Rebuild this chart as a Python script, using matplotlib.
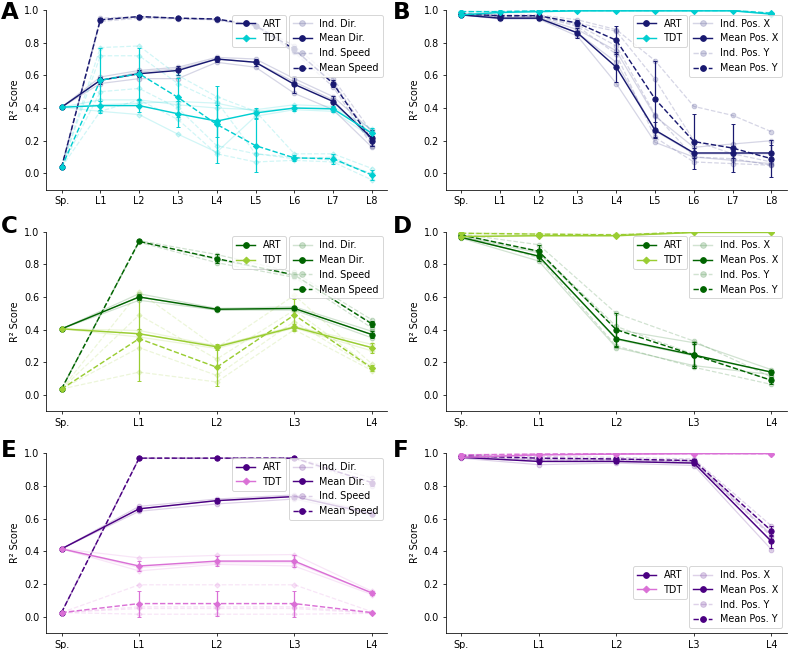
import numpy as np
import matplotlib
matplotlib.use("Agg")
import matplotlib.pyplot as plt
from matplotlib.lines import Line2D

DPI = 69

layers9 = ["Sp.", "L1", "L2", "L3", "L4", "L5", "L6", "L7", "L8"]
layers5 = ["Sp.", "L1", "L2", "L3", "L4"]

# ---- panel A: direction / speed, 8-layer nets ----
A_art_dir = [0.405, 0.57, 0.61, 0.63, 0.70, 0.68, 0.545, 0.44, 0.215]
A_art_dir_err = [0.0, 0.02, 0.02, 0.03, 0.02, 0.02, 0.05, 0.035, 0.05]
A_art_dir_ind = [[0.405, 0.59, 0.63, 0.65, 0.71, 0.70, 0.58, 0.47, 0.26],
                 [0.405, 0.57, 0.62, 0.64, 0.70, 0.68, 0.56, 0.45, 0.20],
                 [0.405, 0.55, 0.58, 0.58, 0.68, 0.65, 0.49, 0.39, 0.16]]
A_art_spd = [0.037, 0.94, 0.96, 0.95, 0.945, 0.905, 0.76, 0.55, 0.20]
A_art_spd_err = [0.0, 0.01, 0.01, 0.005, 0.005, 0.01, 0.02, 0.02, 0.03]
A_art_spd_ind = [[0.037, 0.95, 0.96, 0.95, 0.945, 0.91, 0.78, 0.58, 0.25],
                 [0.037, 0.94, 0.955, 0.95, 0.94, 0.90, 0.75, 0.56, 0.21],
                 [0.037, 0.93, 0.95, 0.945, 0.94, 0.90, 0.74, 0.53, 0.17]]
A_tdt_dir = [0.405, 0.415, 0.415, 0.365, 0.32, 0.37, 0.40, 0.395, 0.245]
A_tdt_dir_err = [0.0, 0.03, 0.04, 0.08, 0.10, 0.03, 0.02, 0.02, 0.03]
A_tdt_dir_ind = [[0.405, 0.45, 0.45, 0.42, 0.40, 0.39, 0.42, 0.41, 0.27],
                 [0.405, 0.42, 0.43, 0.44, 0.43, 0.38, 0.40, 0.40, 0.25],
                 [0.405, 0.38, 0.36, 0.24, 0.13, 0.35, 0.39, 0.38, 0.22]]
A_tdt_spd = [0.037, 0.57, 0.61, 0.465, 0.30, 0.17, 0.095, 0.09, -0.01]
A_tdt_spd_err = [0.0, 0.20, 0.16, 0.12, 0.235, 0.16, 0.02, 0.03, 0.03]
A_tdt_spd_ind = [[0.037, 0.77, 0.78, 0.60, 0.47, 0.38, 0.12, 0.12, 0.03],
                 [0.037, 0.72, 0.72, 0.55, 0.44, 0.12, 0.09, 0.10, -0.01],
                 [0.037, 0.50, 0.52, 0.40, 0.17, 0.12, 0.10, 0.08, 0.00],
                 [0.037, 0.38, 0.45, 0.33, 0.12, 0.07, 0.08, 0.07, -0.04]]

# ---- panel B: position x / y, 8-layer nets ----
B_art_x = [0.97, 0.95, 0.95, 0.86, 0.65, 0.265, 0.125, 0.125, 0.125]
B_art_x_err = [0.005, 0.01, 0.01, 0.03, 0.09, 0.05, 0.03, 0.03, 0.05]
B_art_x_ind = [[0.97, 0.955, 0.955, 0.88, 0.75, 0.35, 0.16, 0.18, 0.20],
               [0.97, 0.95, 0.95, 0.86, 0.68, 0.26, 0.12, 0.12, 0.12],
               [0.97, 0.945, 0.945, 0.84, 0.55, 0.19, 0.10, 0.08, 0.06]]
B_art_y = [0.975, 0.965, 0.965, 0.92, 0.815, 0.455, 0.195, 0.155, 0.09]
B_art_y_err = [0.005, 0.01, 0.01, 0.02, 0.085, 0.235, 0.17, 0.145, 0.115]
B_art_y_ind = [[0.98, 0.97, 0.97, 0.94, 0.88, 0.69, 0.41, 0.355, 0.255],
               [0.975, 0.965, 0.965, 0.92, 0.87, 0.575, 0.20, 0.12, 0.07],
               [0.975, 0.965, 0.96, 0.91, 0.78, 0.36, 0.10, 0.09, 0.05],
               [0.97, 0.96, 0.96, 0.90, 0.73, 0.22, 0.07, 0.06, 0.05]]
B_tdt_x = [0.97, 0.985, 0.99, 0.995, 0.995, 0.995, 0.995, 0.995, 0.975]
B_tdt_x_err = [0.003, 0.003, 0.002, 0.001, 0.001, 0.001, 0.001, 0.001, 0.004]
B_tdt_x_ind = [[0.972, 0.988, 0.992, 0.996, 0.996, 0.996, 0.996, 0.996, 0.978],
               [0.968, 0.982, 0.988, 0.994, 0.994, 0.994, 0.994, 0.994, 0.972]]
B_tdt_y = [0.99, 0.99, 0.995, 0.997, 0.997, 0.997, 0.997, 0.997, 0.98]
B_tdt_y_err = [0.002, 0.002, 0.001, 0.001, 0.001, 0.001, 0.001, 0.001, 0.004]
B_tdt_y_ind = [[0.992, 0.992, 0.996, 0.998, 0.998, 0.998, 0.998, 0.998, 0.984],
               [0.988, 0.988, 0.994, 0.996, 0.996, 0.996, 0.996, 0.996, 0.976]]

# ---- panel C: direction / speed, 4-layer nets ----
C_art_dir = [0.405, 0.60, 0.525, 0.53, 0.37]
C_art_dir_err = [0.0, 0.02, 0.01, 0.01, 0.02]
C_art_dir_ind = [[0.405, 0.62, 0.53, 0.54, 0.39],
                 [0.405, 0.60, 0.52, 0.53, 0.37],
                 [0.405, 0.58, 0.52, 0.52, 0.35]]
C_art_spd = [0.037, 0.94, 0.835, 0.735, 0.435]
C_art_spd_err = [0.0, 0.005, 0.03, 0.02, 0.02]
C_art_spd_ind = [[0.037, 0.945, 0.86, 0.75, 0.46],
                 [0.037, 0.94, 0.83, 0.73, 0.44],
                 [0.037, 0.935, 0.81, 0.72, 0.41]]
C_tdt_dir = [0.405, 0.375, 0.295, 0.415, 0.29]
C_tdt_dir_err = [0.0, 0.03, 0.02, 0.02, 0.03]
C_tdt_dir_ind = [[0.405, 0.395, 0.30, 0.42, 0.31],
                 [0.405, 0.375, 0.30, 0.42, 0.29],
                 [0.405, 0.355, 0.285, 0.41, 0.27]]
C_tdt_spd = [0.037, 0.345, 0.17, 0.49, 0.165]
C_tdt_spd_err = [0.0, 0.26, 0.115, 0.10, 0.02]
C_tdt_spd_ind = [[0.037, 0.63, 0.29, 0.61, 0.19],
                 [0.037, 0.49, 0.22, 0.52, 0.17],
                 [0.037, 0.29, 0.12, 0.45, 0.16],
                 [0.037, 0.14, 0.08, 0.40, 0.15]]

# ---- panel D: position x / y, 4-layer nets ----
D_art_x = [0.965, 0.85, 0.345, 0.245, 0.14]
D_art_x_err = [0.005, 0.03, 0.05, 0.07, 0.015]
D_art_x_ind = [[0.97, 0.87, 0.40, 0.32, 0.155],
               [0.965, 0.85, 0.34, 0.24, 0.14],
               [0.96, 0.82, 0.29, 0.18, 0.125]]
D_art_y = [0.98, 0.88, 0.40, 0.245, 0.09]
D_art_y_err = [0.005, 0.04, 0.10, 0.08, 0.02]
D_art_y_ind = [[0.985, 0.92, 0.50, 0.33, 0.11],
               [0.98, 0.88, 0.42, 0.25, 0.09],
               [0.975, 0.84, 0.30, 0.17, 0.065]]
D_tdt_x = [0.97, 0.975, 0.975, 0.995, 0.995]
D_tdt_x_err = [0.003, 0.003, 0.003, 0.001, 0.001]
D_tdt_x_ind = [[0.972, 0.978, 0.978, 0.996, 0.996],
               [0.968, 0.972, 0.972, 0.994, 0.994]]
D_tdt_y = [0.99, 0.985, 0.98, 0.997, 0.997]
D_tdt_y_err = [0.002, 0.003, 0.003, 0.001, 0.001]
D_tdt_y_ind = [[0.992, 0.988, 0.984, 0.998, 0.998],
               [0.988, 0.982, 0.976, 0.996, 0.996]]

# ---- panel E: direction / speed, 4-layer nets ----
E_art_dir = [0.415, 0.66, 0.71, 0.735, 0.63]
E_art_dir_err = [0.0, 0.015, 0.015, 0.01, 0.01]
E_art_dir_ind = [[0.415, 0.675, 0.72, 0.745, 0.64],
                 [0.415, 0.66, 0.71, 0.735, 0.63],
                 [0.415, 0.645, 0.69, 0.72, 0.62]]
E_art_spd = [0.025, 0.97, 0.97, 0.97, 0.82]
E_art_spd_err = [0.0, 0.003, 0.003, 0.003, 0.02]
E_art_spd_ind = [[0.025, 0.972, 0.972, 0.972, 0.85],
                 [0.025, 0.97, 0.97, 0.97, 0.82],
                 [0.025, 0.968, 0.968, 0.968, 0.80]]
E_tdt_dir = [0.415, 0.31, 0.34, 0.34, 0.145]
E_tdt_dir_err = [0.0, 0.03, 0.03, 0.035, 0.01]
E_tdt_dir_ind = [[0.415, 0.36, 0.375, 0.38, 0.155],
                 [0.415, 0.30, 0.33, 0.33, 0.145],
                 [0.415, 0.28, 0.32, 0.31, 0.135]]
E_tdt_spd = [0.025, 0.08, 0.08, 0.08, 0.025]
E_tdt_spd_err = [0.0, 0.08, 0.075, 0.08, 0.005]
E_tdt_spd_ind = [[0.025, 0.195, 0.195, 0.195, 0.03],
                 [0.025, 0.06, 0.06, 0.06, 0.025],
                 [0.025, 0.05, 0.05, 0.05, 0.022],
                 [0.025, 0.015, 0.015, 0.015, 0.02]]

# ---- panel F: position x / y, 4-layer nets ----
F_art_x = [0.975, 0.95, 0.95, 0.94, 0.46]
F_art_x_err = [0.003, 0.015, 0.01, 0.01, 0.04]
F_art_x_ind = [[0.98, 0.96, 0.96, 0.95, 0.50],
               [0.975, 0.95, 0.95, 0.94, 0.46],
               [0.97, 0.93, 0.94, 0.925, 0.41]]
F_art_y = [0.985, 0.97, 0.965, 0.955, 0.525]
F_art_y_err = [0.003, 0.01, 0.01, 0.01, 0.03]
F_art_y_ind = [[0.99, 0.98, 0.975, 0.965, 0.555],
               [0.985, 0.97, 0.965, 0.955, 0.525],
               [0.98, 0.96, 0.955, 0.945, 0.49]]
F_tdt_x = [0.975, 0.99, 0.995, 0.998, 0.998]
F_tdt_x_err = [0.003, 0.002, 0.001, 0.001, 0.001]
F_tdt_x_ind = [[0.978, 0.992, 0.996, 0.999, 0.999],
               [0.972, 0.988, 0.994, 0.997, 0.997]]
F_tdt_y = [0.99, 0.995, 0.997, 0.998, 0.998]
F_tdt_y_err = [0.002, 0.001, 0.001, 0.001, 0.001]
F_tdt_y_ind = [[0.992, 0.996, 0.998, 0.999, 0.999],
               [0.988, 0.994, 0.996, 0.997, 0.997]]

BLUE, CYAN = "#191970", "#00CED1"
GREEN, LIME = "#006400", "#9ACD32"
PURPLE, PINK = "#4B0082", "#DA70D6"


def draw_group(ax, x, ind, mean, err, color, marker, ls):
    ms = 4.5 if marker == "D" else 5.5
    for row in ind:
        ax.plot(x, row, color=color, alpha=0.18, marker=marker, ms=ms - 0.5,
                ls=ls, lw=1.3)
    ax.errorbar(x, mean, yerr=err, color=color, marker=marker, ms=ms, ls=ls,
                lw=1.5, capsize=2.5, elinewidth=1.3)


def panel(ax, fig, labels, art, tdt, colors, names, legend_loc="upper right"):
    x = np.arange(len(labels))
    c_art, c_tdt = colors
    for (ind, mean, err), ls in zip(art, ("-", "--")):
        draw_group(ax, x, ind, mean, err, c_art, "o", ls)
    for (ind, mean, err), ls in zip(tdt, ("-", "--")):
        draw_group(ax, x, ind, mean, err, c_tdt, "D", ls)

    ax.set_xticks(x)
    ax.set_xticklabels(labels)
    ax.set_ylim(-0.1, 1.0)
    ax.set_yticks([0.0, 0.2, 0.4, 0.6, 0.8, 1.0])
    ax.set_ylabel("R² Score")
    ax.spines["top"].set_visible(False)
    ax.spines["right"].set_visible(False)

    h2 = [Line2D([], [], color=c_art, alpha=0.18, marker="o", ls="-", label=f"Ind. {names[0]}"),
          Line2D([], [], color=c_art, marker="o", ls="-", label=f"Mean {names[0]}"),
          Line2D([], [], color=c_art, alpha=0.18, marker="o", ls="--", label=f"Ind. {names[1]}"),
          Line2D([], [], color=c_art, marker="o", ls="--", label=f"Mean {names[1]}")]
    leg2 = ax.legend(handles=h2, loc=legend_loc)
    ax.add_artist(leg2)
    fig.canvas.draw()
    bb = leg2.get_window_extent().transformed(ax.transAxes.inverted())
    h1 = [Line2D([], [], color=c_art, marker="o", label="ART"),
          Line2D([], [], color=c_tdt, marker="D", ms=5, label="TDT")]
    ax.legend(handles=h1, loc="upper right", bbox_to_anchor=(bb.x0 - 0.008, bb.y1),
              borderaxespad=0)


fig, axes = plt.subplots(3, 2, figsize=(788 / DPI, 649 / DPI), dpi=DPI)
fig.subplots_adjust(left=46 / 788, right=787 / 788, bottom=1 - 633 / 649,
                    top=1 - 10 / 649, wspace=0.17, hspace=0.233)

dir_names = ("Dir.", "Speed")
pos_names = ("Pos. X", "Pos. Y")

panel(axes[0, 0], fig, layers9,
      [(A_art_dir_ind, A_art_dir, A_art_dir_err), (A_art_spd_ind, A_art_spd, A_art_spd_err)],
      [(A_tdt_dir_ind, A_tdt_dir, A_tdt_dir_err), (A_tdt_spd_ind, A_tdt_spd, A_tdt_spd_err)],
      (BLUE, CYAN), dir_names)
panel(axes[0, 1], fig, layers9,
      [(B_art_x_ind, B_art_x, B_art_x_err), (B_art_y_ind, B_art_y, B_art_y_err)],
      [(B_tdt_x_ind, B_tdt_x, B_tdt_x_err), (B_tdt_y_ind, B_tdt_y, B_tdt_y_err)],
      (BLUE, CYAN), pos_names)
panel(axes[1, 0], fig, layers5,
      [(C_art_dir_ind, C_art_dir, C_art_dir_err), (C_art_spd_ind, C_art_spd, C_art_spd_err)],
      [(C_tdt_dir_ind, C_tdt_dir, C_tdt_dir_err), (C_tdt_spd_ind, C_tdt_spd, C_tdt_spd_err)],
      (GREEN, LIME), dir_names)
panel(axes[1, 1], fig, layers5,
      [(D_art_x_ind, D_art_x, D_art_x_err), (D_art_y_ind, D_art_y, D_art_y_err)],
      [(D_tdt_x_ind, D_tdt_x, D_tdt_x_err), (D_tdt_y_ind, D_tdt_y, D_tdt_y_err)],
      (GREEN, LIME), pos_names)
panel(axes[2, 0], fig, layers5,
      [(E_art_dir_ind, E_art_dir, E_art_dir_err), (E_art_spd_ind, E_art_spd, E_art_spd_err)],
      [(E_tdt_dir_ind, E_tdt_dir, E_tdt_dir_err), (E_tdt_spd_ind, E_tdt_spd, E_tdt_spd_err)],
      (PURPLE, PINK), dir_names)
panel(axes[2, 1], fig, layers5,
      [(F_art_x_ind, F_art_x, F_art_x_err), (F_art_y_ind, F_art_y, F_art_y_err)],
      [(F_tdt_x_ind, F_tdt_x, F_tdt_x_err), (F_tdt_y_ind, F_tdt_y, F_tdt_y_err)],
      (PURPLE, PINK), pos_names, legend_loc="lower right")

# panel letters
for letter, (px, py) in zip("ABCDEF", [(1, 1), (393, 1), (1, 215), (393, 215), (1, 439), (393, 439)]):
    fig.text(px / 788, 1 - py / 649, letter, fontsize=24, fontweight="bold",
             ha="left", va="top")

fig.savefig("out.png", dpi=DPI)
